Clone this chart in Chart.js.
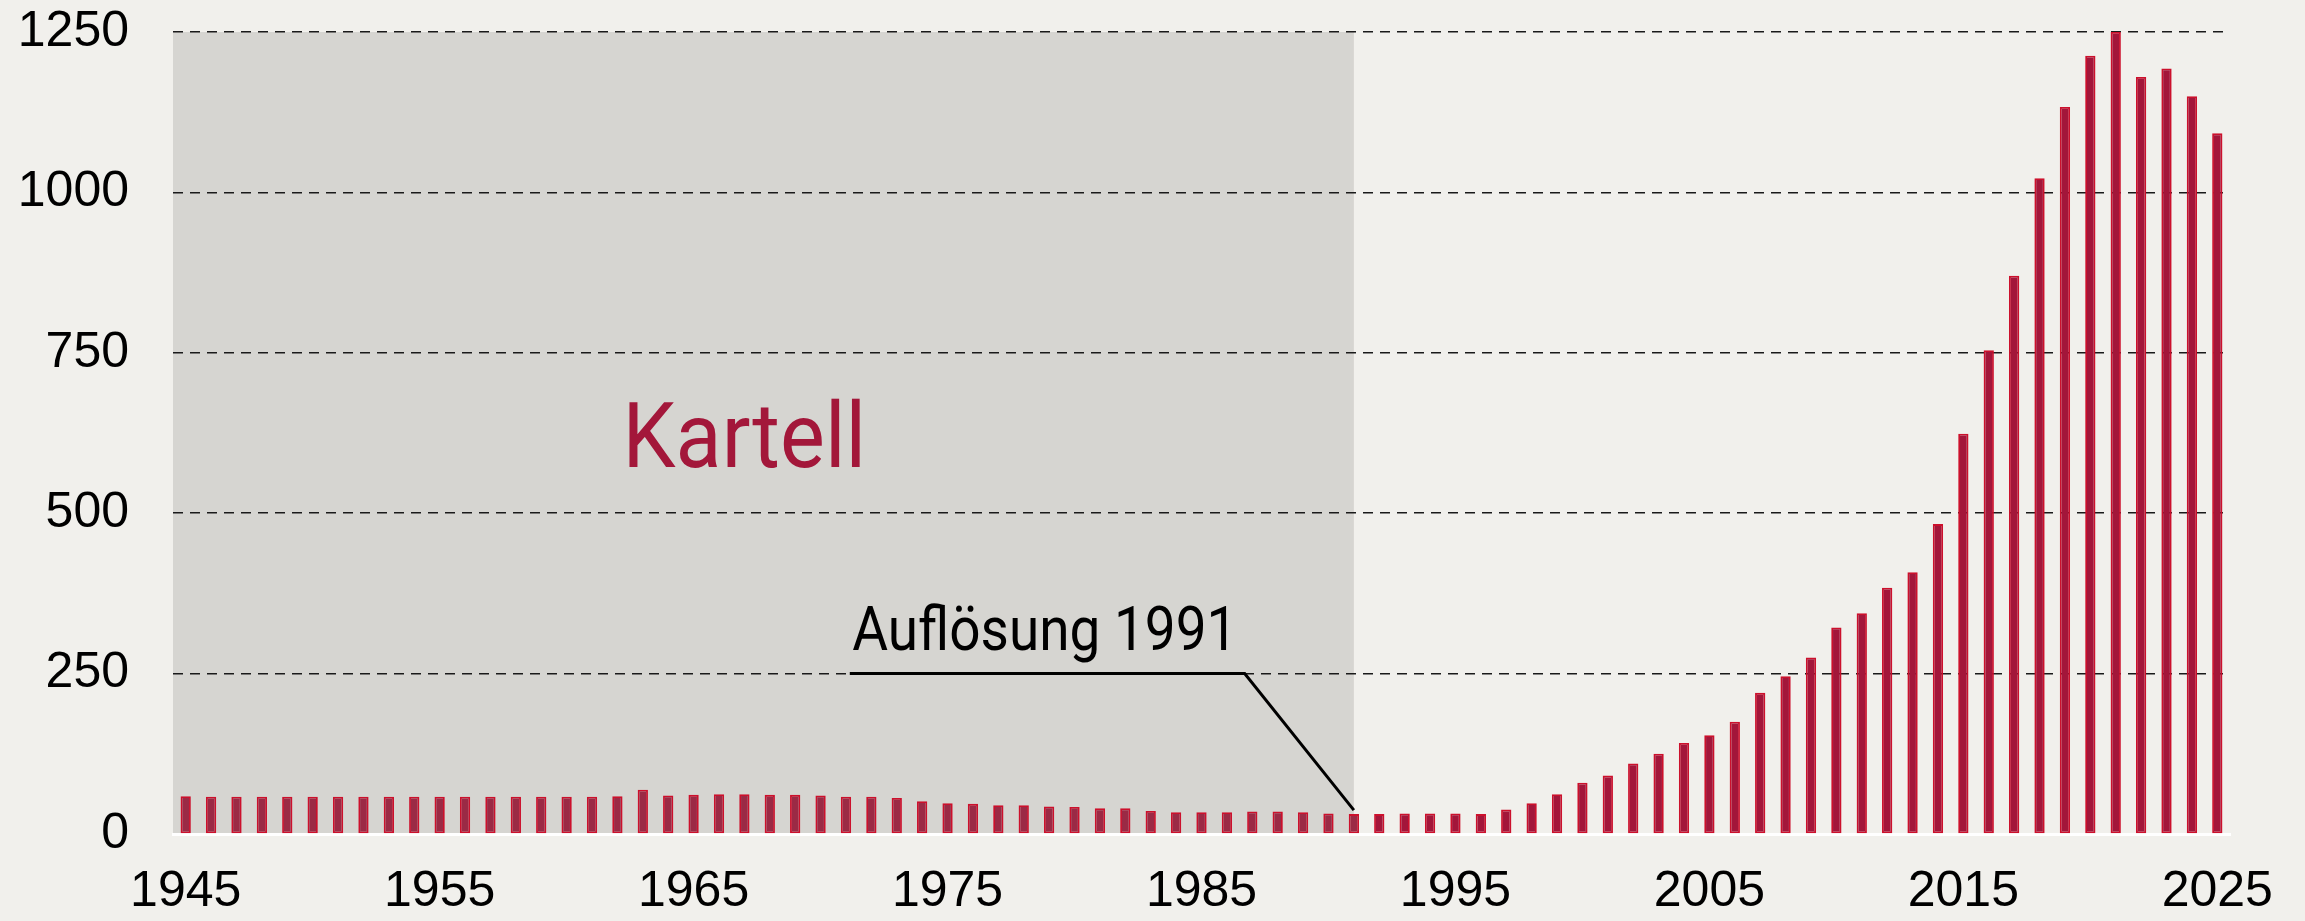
<!DOCTYPE html>
<html lang="de">
<head>
<meta charset="utf-8">
<title>Kartell</title>
<script src="https://cdn.jsdelivr.net/npm/chart.js@4.4.1/dist/chart.umd.min.js"></script>
<style>
  html, body { margin: 0; padding: 0; background: #f1f0ec; }
  #wrap { width: 2305px; height: 921px; }
</style>
</head>
<body>
<div id="wrap"><canvas id="chart" width="2305" height="921"></canvas></div>
<script>
// Years 1945..2025
const years = [
  '1945','1946','1947','1948','1949','1950','1951','1952','1953','1954',
  '1955','1956','1957','1958','1959','1960','1961','1962','1963','1964',
  '1965','1966','1967','1968','1969','1970','1971','1972','1973','1974',
  '1975','1976','1977','1978','1979','1980','1981','1982','1983','1984',
  '1985','1986','1987','1988','1989','1990','1991','1992','1993','1994',
  '1995','1996','1997','1998','1999','2000','2001','2002','2003','2004',
  '2005','2006','2007','2008','2009','2010','2011','2012','2013','2014',
  '2015','2016','2017','2018','2019','2020','2021','2022','2023','2024',
  '2025'
];

// Values
const values = [
  59, 58, 58, 58, 58, 58, 58, 58, 58, 58,
  58, 58, 58, 58, 58, 58, 58, 59, 69, 60,
  61, 62, 62, 61, 61, 60, 58, 58, 56, 51,
  48, 47, 45, 45, 43, 42, 40, 40, 36, 34,
  34, 34, 35, 35, 34, 32, 31, 31, 32, 32,
  32, 31, 38, 48, 62, 80, 91, 110, 125, 142,
  154, 175, 220, 246, 275, 322, 344, 384, 408, 483,
  624, 754, 870, 1022, 1133, 1213, 1250, 1180, 1193, 1150,
  1092
];

const yTicks = [0, 250, 500, 750, 1000, 1250];
const xTickLabels = ['1945', '1955', '1965', '1975', '1985', '1995', '2005', '2015', '2025'];

const cartelEnd = '1991';
const cartelLabel = 'Kartell';
const dissolutionLabel = 'Auflösung 1991';

const BG = '#f1f0ec';
const SHADE = '#d6d5d1';
const RED = '#a3173a';

const endIdx = years.indexOf(cartelEnd);

// Background + grey "Kartell" band, drawn under the grid
const shadePlugin = {
  id: 'shade',
  beforeDraw(chart) {
    const { ctx, chartArea, scales } = chart;
    ctx.save();
    ctx.fillStyle = BG;
    ctx.fillRect(0, 0, chart.width, chart.height);
    const xEnd = scales.x.getPixelForValue(endIdx);
    ctx.fillStyle = SHADE;
    ctx.fillRect(chartArea.left, chartArea.top, xEnd - chartArea.left, chartArea.bottom - chartArea.top);
    ctx.restore();
  }
};

// squeeze text horizontally (DIN-like look)
function drawSqueezed(ctx, text, x, y, squeeze) {
  ctx.save();
  ctx.translate(x, y);
  ctx.scale(squeeze, 1);
  ctx.fillText(text, 0, 0);
  ctx.restore();
}

// Labels and leader line
const notesPlugin = {
  id: 'notes',
  afterDraw(chart) {
    const { ctx, scales } = chart;
    const x = scales.x, y = scales.y;
    ctx.save();
    ctx.textBaseline = 'alphabetic';
    ctx.textAlign = 'left';

    // "Kartell"
    ctx.fillStyle = RED;
    ctx.font = '400 91px Roboto';
    drawSqueezed(ctx, cartelLabel, x.getPixelForValue(17.2), y.getPixelForValue(572), 0.93);

    // "Auflösung 1991"
    ctx.fillStyle = '#000';
    ctx.font = '400 61px Roboto';
    drawSqueezed(ctx, dissolutionLabel, x.getPixelForValue(26.25), y.getPixelForValue(287), 0.9);

    // leader line to the 1991 bar
    ctx.strokeStyle = '#000';
    ctx.lineWidth = 3;
    ctx.beginPath();
    ctx.moveTo(x.getPixelForValue(26.15), y.getPixelForValue(250));
    ctx.lineTo(x.getPixelForValue(41.7), y.getPixelForValue(250));
    ctx.lineTo(x.getPixelForValue(endIdx), y.getPixelForValue(values[endIdx]) - 4);
    ctx.stroke();
    ctx.restore();
  }
};

const barColors = values.map((v, i) => i <= endIdx ? '#9b2a45' : '#a3163a');

new Chart(document.getElementById('chart'), {
  type: 'bar',
  data: {
    labels: years,
    datasets: [{
      data: values,
      backgroundColor: barColors,
      borderColor: '#cc102c',
      borderWidth: 1.8,
      borderSkipped: false,
      categoryPercentage: 1,
      barPercentage: 0.405
    }]
  },
  options: {
    responsive: false,
    animation: false,
    devicePixelRatio: 1,
    layout: {
      padding: { left: 18, right: 75, top: 32, bottom: 0 }
    },
    plugins: {
      legend: { display: false },
      tooltip: { enabled: false }
    },
    scales: {
      x: {
        offset: true,
        grid: { display: false, drawTicks: false },
        border: { display: true, color: '#ffffff', width: 3 },
        ticks: {
          autoSkip: false,
          maxRotation: 0,
          padding: 28,
          color: '#000',
          font: { family: 'Liberation Sans, Arial, sans-serif', size: 50 },
          callback: (value) => xTickLabels.includes(years[value]) ? years[value] : ''
        },
        afterFit: (scale) => {
          // keep the axis band fixed so the plot bottom sits at ~834px
          scale.height = 87;
          scale.paddingLeft = 0;
          scale.paddingRight = 0;
        }
      },
      y: {
        min: yTicks[0],
        max: yTicks[yTicks.length - 1],
        afterBuildTicks: (scale) => {
          scale.ticks = yTicks.map(v => ({ value: v }));
        },
        grid: {
          drawTicks: false,
          lineWidth: 1.6,
          color: (ctx) => ctx.tick && ctx.tick.value === 0 ? 'rgba(0,0,0,0)' : '#1a1a1a'
        },
        border: { display: false, dash: [10, 7] },
        ticks: {
          padding: 44,
          color: '#000',
          font: { family: 'Liberation Sans, Arial, sans-serif', size: 50 },
          callback: (value) => String(value)
        },
        afterFit: (scale) => {
          scale.width = 155;
          scale.paddingTop = 0;
          scale.paddingBottom = 0;
        }
      }
    }
  },
  plugins: [shadePlugin, notesPlugin]
});
</script>
</body>
</html>
